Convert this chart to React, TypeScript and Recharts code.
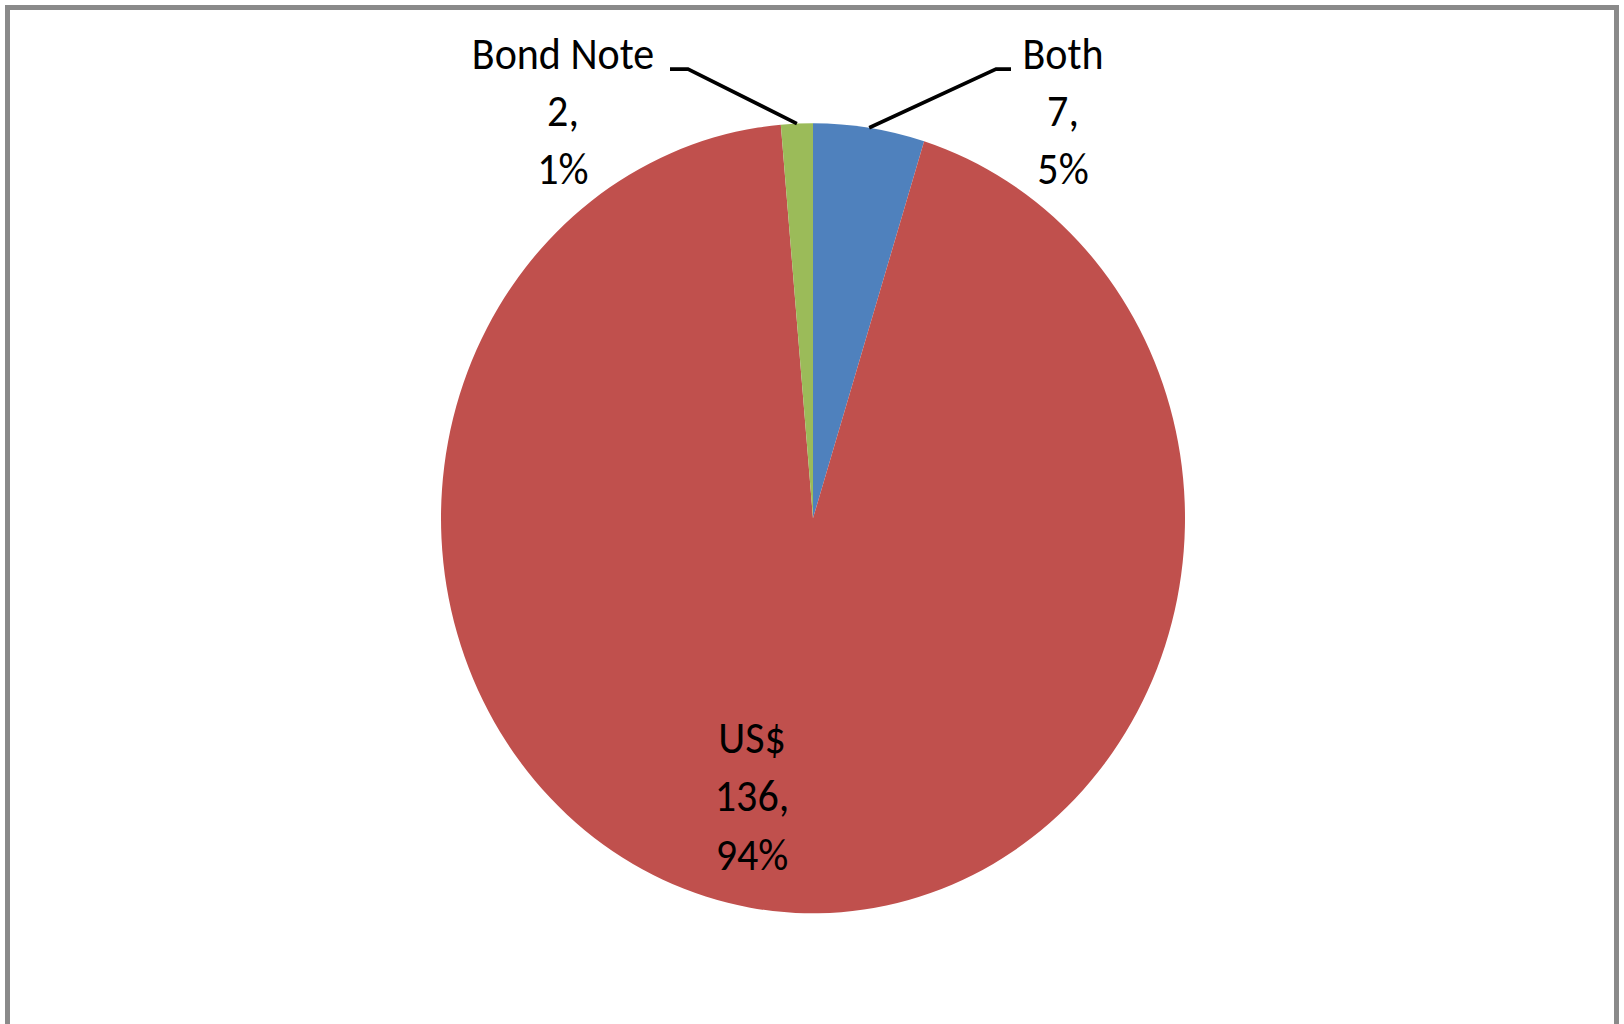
import { Cell, Pie, PieChart } from "recharts";

const categories = ["Both", "US$", "Bond Note"];
const counts = [7, 136, 2];
const sliceColors = ["#4F81BD", "#C0504D", "#9BBB59"];

const data = categories.map((name, i) => ({ name, value: counts[i] }));

const FONT = "Carlito, Calibri, 'Open Sans', sans-serif";
const FONT_SIZE = 42;
const LINE_GAP = 54;
const RAD = Math.PI / 180;

// the original picture is stretched a little vertically, so the whole chart is too
const STRETCH_Y = 1.062;

function renderLabel(props: any) {
  const { cx, cy, midAngle, outerRadius, name, value, percent } = props;
  const lines = [name, `${value},`, `${Math.round(percent * 100)}%`];

  if (percent > 0.5) {
    // big slice: label sits inside, low and slightly left of centre
    const tx = cx - outerRadius * 0.164;
    const ty = cy + outerRadius * 0.594;
    return (
      <g>
        {lines.map((t, i) => (
          <text
            key={i}
            x={tx}
            y={ty + i * 55}
            textAnchor="middle"
            fill="#000"
            fontSize={FONT_SIZE}
            fontFamily={FONT}
          >
            {t}
          </text>
        ))}
      </g>
    );
  }

  const cos = Math.cos(-midAngle * RAD);
  const sin = Math.sin(-midAngle * RAD);
  const ax = cx + outerRadius * cos;
  const ay = cy + outerRadius * sin;
  const right = cos >= 0;
  const side = right ? 1 : -1;
  const elbowY = cy - outerRadius - 51;
  const elbowX = cx + side * (right ? 183 : 125);
  const endX = cx + side * (right ? 198 : 143);
  const textX = cx + side * 250;

  return (
    <g>
      <polyline
        points={`${ax},${ay} ${elbowX},${elbowY} ${endX},${elbowY}`}
        fill="none"
        stroke="#000"
        strokeWidth={3.5}
      />
      {lines.map((t, i) => (
        <text
          key={i}
          x={textX}
          y={elbowY + i * LINE_GAP}
          textAnchor="middle"
          fill="#000"
          fontSize={FONT_SIZE}
          fontFamily={FONT}
        >
          {t}
        </text>
      ))}
    </g>
  );
}

export default function App() {
  return (
    <div
      style={{
        position: "absolute",
        left: 0,
        top: 0,
        width: 1624,
        height: 1024,
        overflow: "hidden",
        background: "#fff",
      }}
    >
      <div
        style={{
          position: "absolute",
          left: 5,
          top: 5,
          width: 1614,
          height: 1100,
          border: "5px solid #8a8a8a",
          boxSizing: "border-box",
        }}
      />
      <div
        style={{
          position: "absolute",
          left: 0,
          top: 0,
          transform: `scaleY(${STRETCH_Y})`,
          transformOrigin: "0 0",
        }}
      >
        <PieChart width={1624} height={964} margin={{ top: 0, right: 0, bottom: 0, left: 0 }}>
          <Pie
            data={data}
            dataKey="value"
            nameKey="name"
            cx={813}
            cy={488}
            outerRadius={372}
            startAngle={90}
            endAngle={-270}
            stroke="none"
            label={renderLabel}
            labelLine={false}
            isAnimationActive={false}
          >
            {data.map((d, i) => (
              <Cell key={d.name} fill={sliceColors[i]} />
            ))}
          </Pie>
        </PieChart>
      </div>
    </div>
  );
}
